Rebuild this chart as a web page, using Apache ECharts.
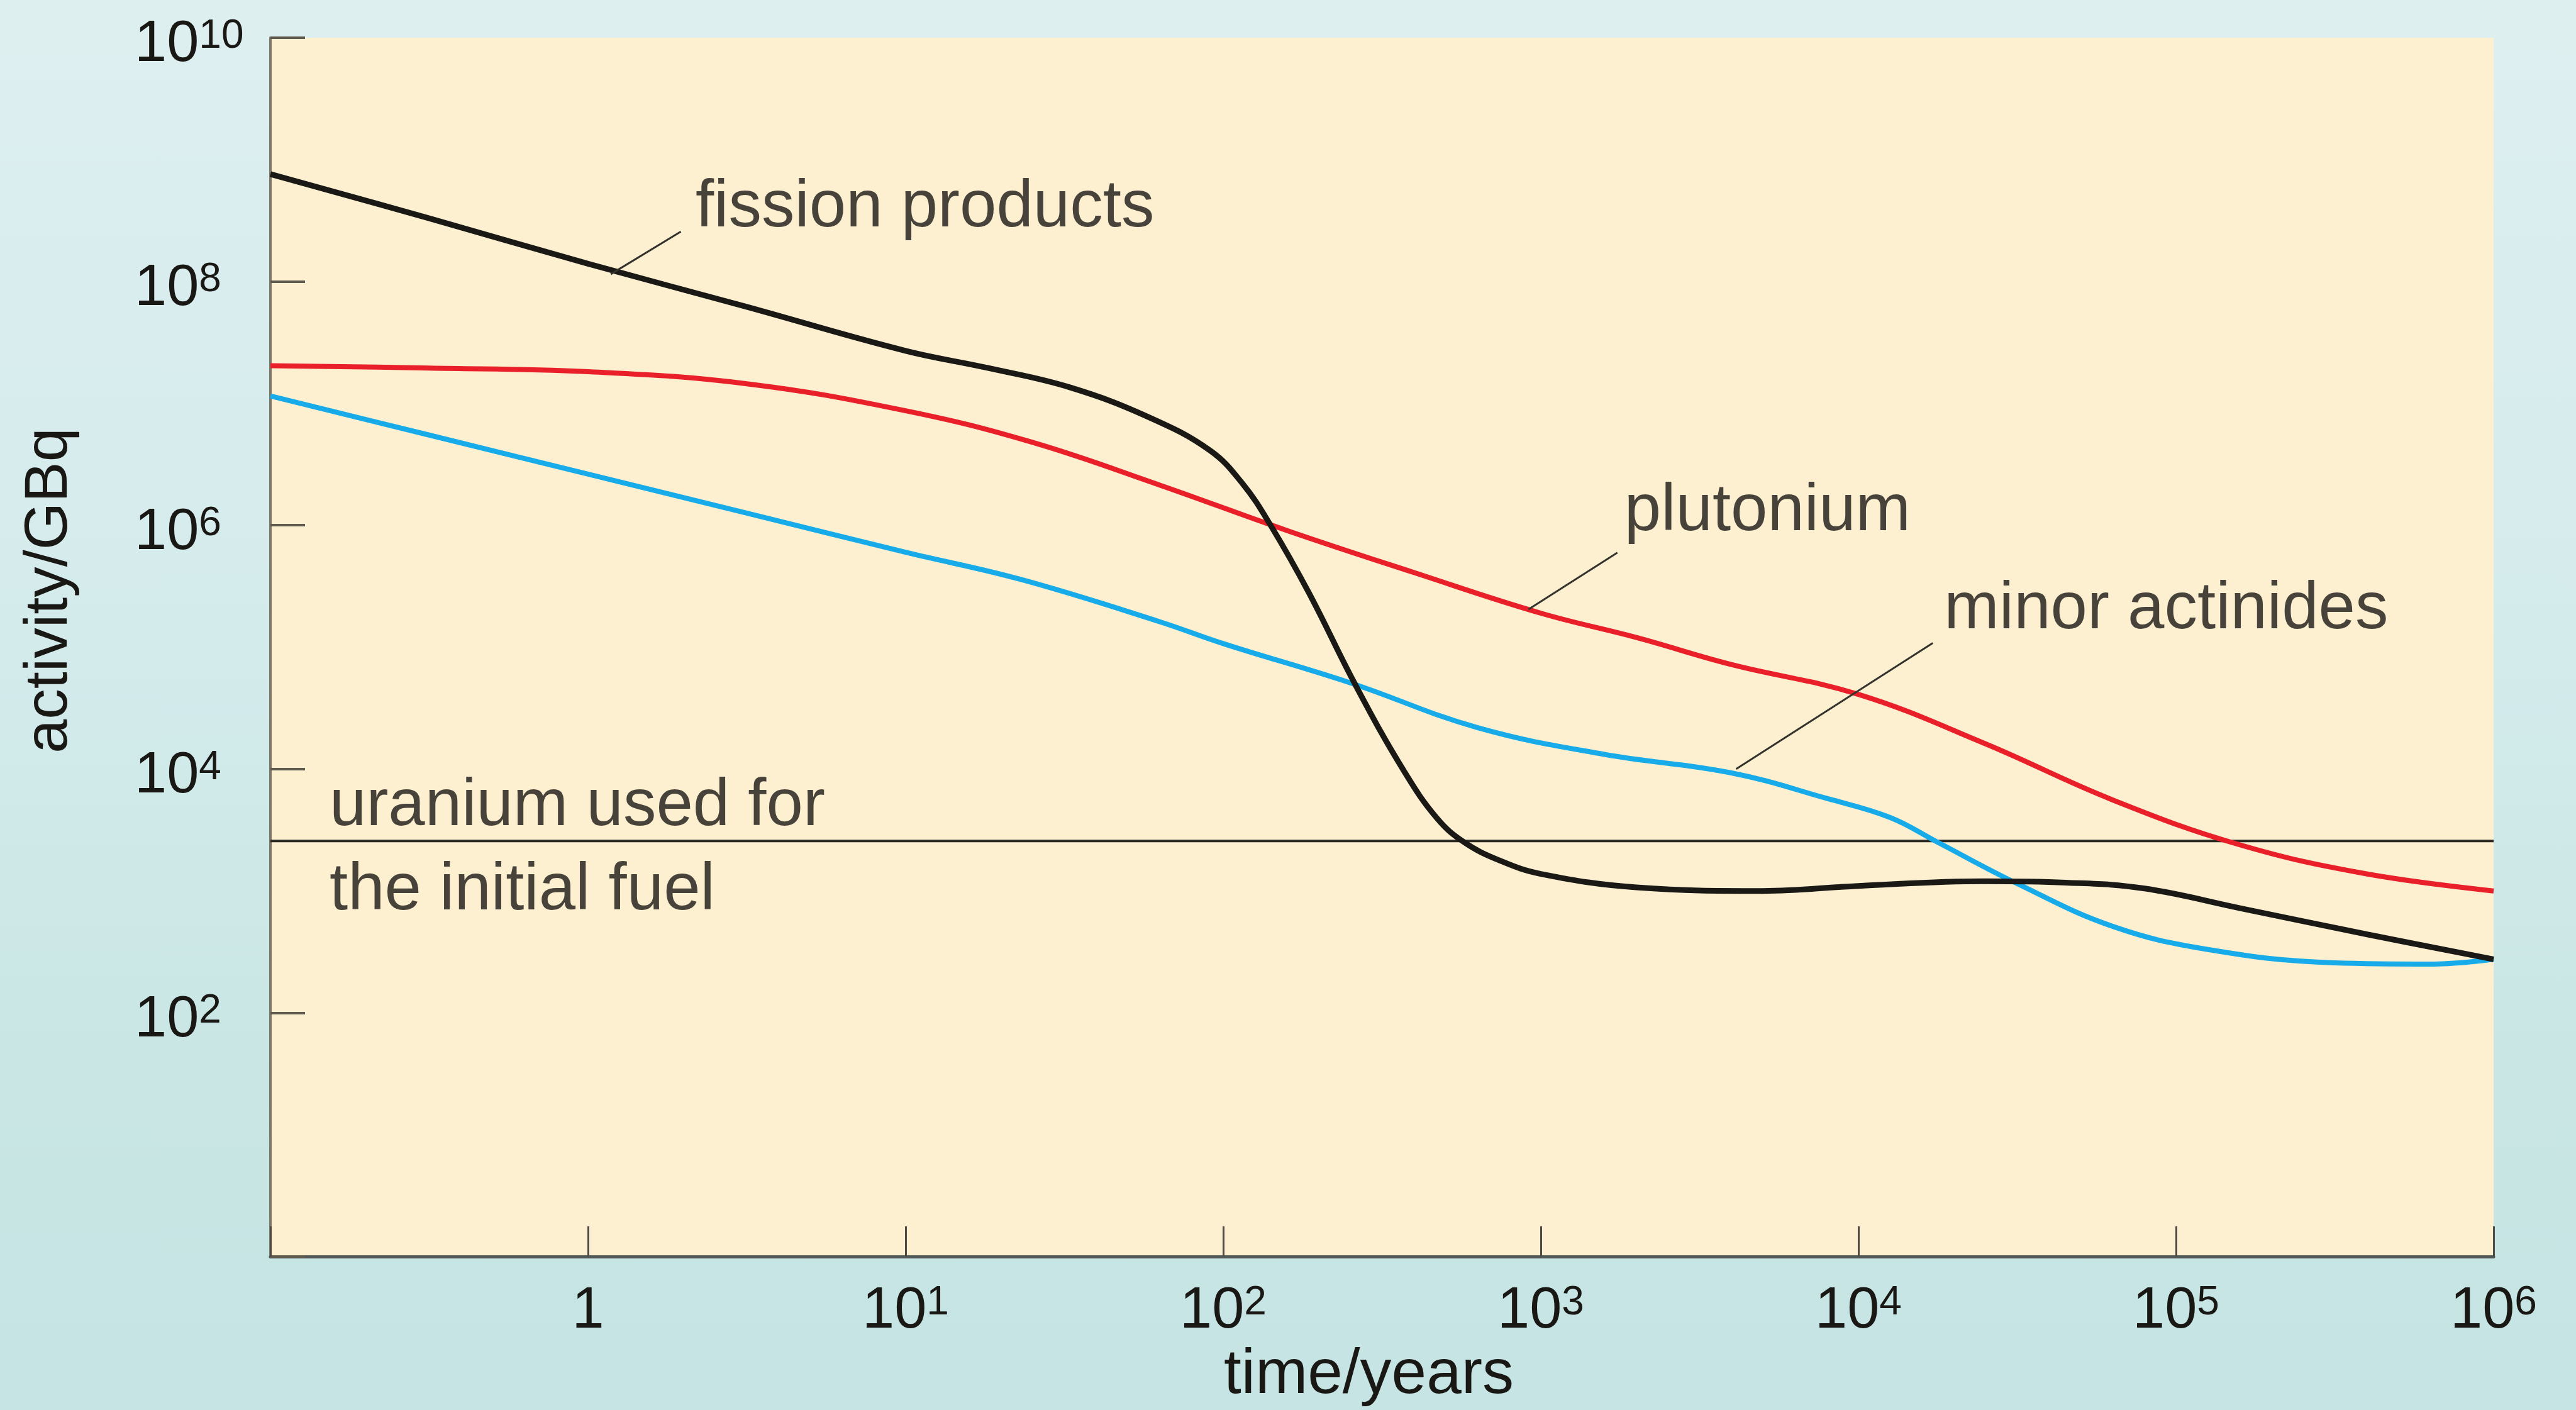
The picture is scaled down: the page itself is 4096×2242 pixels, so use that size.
<!DOCTYPE html>
<html>
<head>
<meta charset="utf-8">
<script src="https://cdn.jsdelivr.net/npm/echarts@6/dist/echarts.min.js"></script>
<style>
html,body{margin:0;padding:0;width:4096px;height:2242px;overflow:hidden;
background:linear-gradient(180deg,#deeff0 0%,#d4ebec 45%,#c9e6e4 75%,#c5e4e3 100%);}
#chart{width:4096px;height:2242px;}
</style>
</head>
<body>
<div id="chart"></div>
<script>
// time (years), activity (GBq)
const fissionProducts = [[0.1,7.6e8],[0.316,3.3e8],[1,1.4e8],[3.16,6.2e7],[10,2.7e7],[18.2,1.95e7],[33,1.35e7],[59,7.6e6],[91,4.1e6],[115,2.2e6],[141,1.0e6],[186,2.8e5],[263,4.7e4],[372,9.5e3],[473,3.9e3],[575,2.5e3],[741,1.78e3],[1000,1.38e3],[2000,1.07e3],[5000,1.0e3],[1e4,1.1e3],[2.5e4,1.2e3],[4.5e4,1.17e3],[7.9e4,1.05e3],[1.6e5,720],[4.0e5,440],[1e6,275]];
const plutonium = [[0.1,2.04e7],[0.316,1.95e7],[1,1.82e7],[3.16,1.45e7],[10,8.7e6],[25,4.8e6],[63,2.14e6],[158,9.1e5],[398,4.1e5],[1000,1.9e5],[2000,1.2e5],[3980,7.2e4],[1e4,4.1e4],[2.5e4,1.62e4],[6.3e4,5.6e3],[1.58e5,2.4e3],[3.98e5,1.38e3],[1e6,1.0e3]];
const minorActinides = [[0.1,1.15e7],[0.316,5.5e6],[1,2.63e6],[3.16,1.26e6],[10,6.0e5],[23,3.6e5],[63,1.62e5],[100,1.07e5],[251,5.1e4],[631,2.19e4],[1585,1.32e4],[3981,9.3e3],[7943,5.75e3],[1.26e4,4.0e3],[1.78e4,2.5e3],[3.16e4,1.15e3],[6.31e4,513],[1.26e5,331],[3.16e5,257],[6.31e5,251],[1e6,275]];
const uraniumLevel = [[0.1,2570],[1e6,2570]];

const fissionLeader = [[1.18,1.15e8],[1.96,2.57e8]];
const plutoniumLeader = [[914,2.04e5],[1742,5.97e5]];
const actinidesLeader = [[4121,1.0e4],[17140,1.08e5]];

const labelTexts = ['fission products','plutonium','minor actinides','uranium used for\nthe initial fuel'];
const labelAnchors = [[2.18,4.0e8],[1832,1.29e6],[18620,2.02e5],[0.1535,2210]];

const FONT = '"Liberation Sans", Arial, Helvetica, sans-serif';
const TXT = '#191815';

function expLabel(v, skip) {
  const e = Math.round(Math.log10(v));
  if (skip.indexOf(e) >= 0) return '';
  if (e === 0) return '{b|1}';
  return '{b|10}{e|' + e + '}';
}
const richStyle = {
  b: {fontSize: 92, lineHeight: 92, fontFamily: FONT, color: TXT},
  e: {fontSize: 64, lineHeight: 52, fontFamily: FONT, color: TXT, verticalAlign: 'top'}
};

const chart = echarts.init(document.getElementById('chart'), null, {renderer: 'canvas'});
const leaderStyle = {color: '#34322c', width: 3};

chart.setOption({
  backgroundColor: 'transparent',
  animation: false,
  grid: {left: 430, right: 131, top: 60, bottom: 242, show: true, backgroundColor: '#fdf0d1', borderWidth: 0},
  xAxis: {
    type: 'log', logBase: 10, min: 0.1, max: 1e6, interval: 1,
    name: 'time/years', nameLocation: 'middle', nameGap: 129,
    nameTextStyle: {fontSize: 100, lineHeight: 100, fontFamily: FONT, color: TXT, padding: [0, 42, 0, 0]},
    axisLine: {show: true, lineStyle: {color: '#4f5757', width: 5}},
    axisTick: {show: true, inside: true, length: 48, lineStyle: {color: '#4d4b43', width: 3}},
    splitLine: {show: false},
    axisLabel: {margin: 42, formatter: v => expLabel(v, [-1]), rich: richStyle}
  },
  yAxis: {
    type: 'log', logBase: 10, min: 1, max: 1e10, interval: 2,
    axisLine: {show: true, lineStyle: {color: '#7d7869', width: 4}},
    axisTick: {show: true, inside: true, length: 55, lineStyle: {color: '#5e5a4e', width: 4}},
    splitLine: {show: false},
    axisLabel: {margin: 216, align: 'left', padding: [24, 0, 0, 0], formatter: v => expLabel(v, [0]), rich: richStyle}
  },
  graphic: [{
    type: 'text', x: 79, y: 939, rotation: Math.PI / 2,
    style: {text: 'activity/GBq', font: '97px ' + FONT, fill: TXT, textAlign: 'center', textVerticalAlign: 'middle'}
  }],
  series: [
    {name: 'uranium used for the initial fuel', type: 'line', data: uraniumLevel, symbol: 'none', lineStyle: {color: '#2b2822', width: 4}, z: 2},
    {name: 'minor actinides', type: 'line', data: minorActinides, smooth: 0.4, symbol: 'none', lineStyle: {color: '#17ace9', width: 8}, z: 3},
    {name: 'plutonium', type: 'line', data: plutonium, smooth: 0.4, symbol: 'none', lineStyle: {color: '#e9202a', width: 8}, z: 4},
    {name: 'fission products', type: 'line', data: fissionProducts, smooth: 0.4, symbol: 'none', lineStyle: {color: '#1a1916', width: 9}, z: 5},
    {type: 'line', data: fissionLeader, symbol: 'none', lineStyle: leaderStyle, z: 6, silent: true},
    {type: 'line', data: plutoniumLeader, symbol: 'none', lineStyle: leaderStyle, z: 6, silent: true},
    {type: 'line', data: actinidesLeader, symbol: 'none', lineStyle: leaderStyle, z: 6, silent: true},
    {
      type: 'scatter', symbolSize: 0, silent: true, z: 7,
      data: labelAnchors.map((p, i) => ({value: p, name: labelTexts[i]})),
      label: {
        show: true, position: 'right', distance: 0, formatter: p => p.name,
        fontSize: 105, fontFamily: FONT, color: TXT, lineHeight: 134, align: 'left'
      }
    }
  ]
});
</script>
</body>
</html>
